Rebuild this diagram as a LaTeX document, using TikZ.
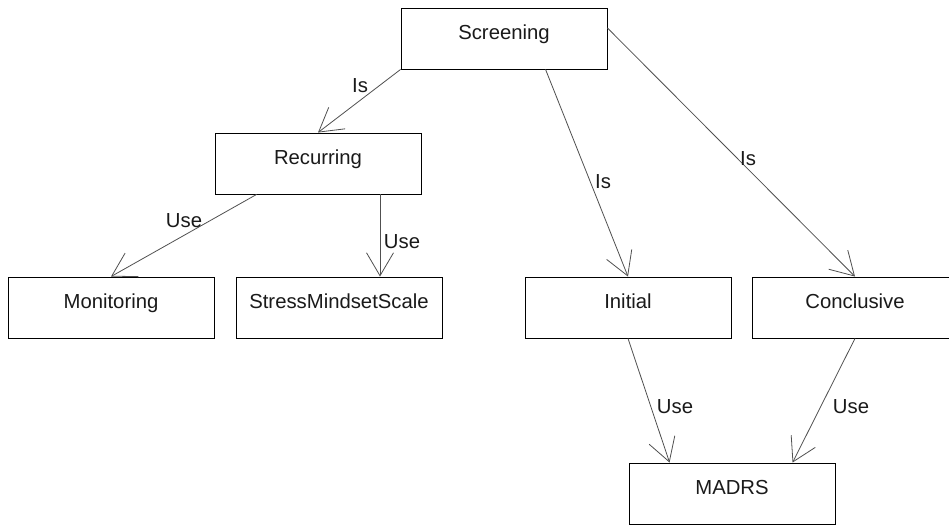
\documentclass[tikz,border=0pt]{standalone}
\usepackage{fontspec}
\setmainfont{Liberation Sans}
\usetikzlibrary{arrows.meta}
\definecolor{linegray}{HTML}{505050}
\definecolor{inkblack}{HTML}{1A1A1A}
\tikzset{
  classbox/.style={draw=black, line width=0.9pt, fill=white,
    minimum width=206pt, minimum height=61pt, inner xsep=0pt, inner ysep=0pt,
    text height=31.5pt, text depth=29.5pt, text=inkblack, font=\fontsize{20.3}{23}\selectfont},
  rel/.style={draw=linegray, line width=0.8pt,
    -{Straight Barb[length=23pt, width=27pt, line width=0.8pt]}},
  lbl/.style={inner sep=0pt, anchor=base, text=inkblack, font=\fontsize{20.3}{23}\selectfont}
}
\begin{document}
\begin{tikzpicture}[x=1pt, y=-1pt]
  \useasboundingbox[fill=white] (0,0) rectangle (949,524);
  \clip (0,0) rectangle (949,524);

  % class boxes
  \node[classbox] (scr) at (504,38.5)  {Screening};
  \node[classbox] (rec) at (318,163.5) {Recurring};
  \node[classbox] (mon) at (111,307.5) {Monitoring};
  \node[classbox] (sms) at (339,307.5) {StressMindsetScale};
  \node[classbox] (ini) at (628,307.5) {Initial};
  \node[classbox] (con) at (855,307.5) {Conclusive};
  \node[classbox] (mad) at (732,493.5) {MADRS};

  % relations
  \draw[rel] (scr.south west) -- (rec.north);
  \draw[rel] ([xshift=145pt]scr.south west) -- (ini.north);
  \draw[rel] ([yshift=10.5pt]scr.east) -- (con.north);
  \draw[rel] ([xshift=42pt]rec.south west) -- (mon.north);
  \draw[rel] ([xshift=62pt]rec.south) -- ([xshift=41pt]sms.north);
  \draw[rel] (ini.south) -- ([xshift=41pt]mad.north west);
  \draw[rel] (con.south) -- ([xshift=164pt]mad.north west);

  % relation labels
  \node[lbl] (l1) at (360,93)  {Is};
  \node[lbl] (l2) at (603,188) {Is};
  \node[lbl] (l3) at (748,165) {Is};
  \node[lbl] (l4) at (184,227) {Use};
  \node[lbl] (l5) at (402,248) {Use};
  \node[lbl] (l6) at (675,413) {Use};
  \node[lbl] (l7) at (851,413) {Use};
\end{tikzpicture}
\end{document}
